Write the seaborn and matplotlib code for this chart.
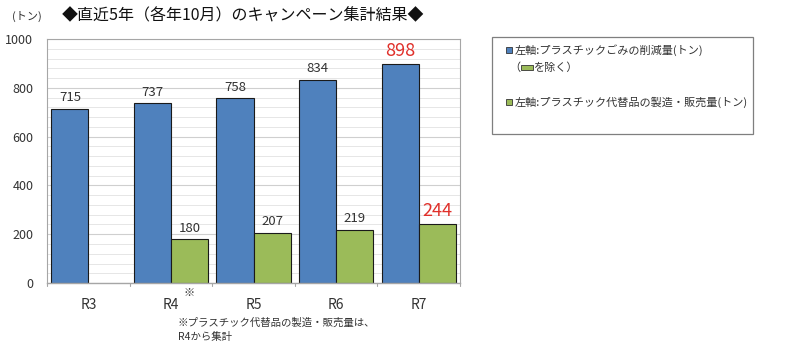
import numpy as np
import pandas as pd
import matplotlib
matplotlib.use("Agg")
import matplotlib.pyplot as plt
from matplotlib.patches import Rectangle
import seaborn as sns

years = ["R3", "R4", "R5", "R6", "R7"]
reduction = [715, 737, 758, 834, 898]
substitute = [np.nan, 180, 207, 219, 244]
series_names = ["左軸:プラスチックごみの削減量(トン)", "左軸:プラスチック代替品の製造・販売量(トン)"]
yticks = [0, 200, 400, 600, 800, 1000]

BLUE = "#4F81BD"
GREEN = "#9BBB59"
RED = "#E0302A"
TXT = "#333333"

sns.set_theme(style="white")
plt.rcParams['font.family'] = ['Noto Sans CJK JP', 'DejaVu Sans']

df = pd.DataFrame({
    "year": years * 2,
    "value": reduction + substitute,
    "series": [series_names[0]] * len(years) + [series_names[1]] * len(years),
})

fig = plt.figure(figsize=(8.0, 3.46), dpi=100)
ax = fig.add_axes([0.059, 0.182, 0.516, 0.705])

sns.barplot(data=df, x="year", y="value", hue="series", order=years,
            hue_order=series_names, palette=[BLUE, GREEN], width=0.9,
            edgecolor="#1a1a1a", linewidth=0.8, legend=False, ax=ax,
            saturation=1.0, errorbar=None)

ax.set_ylim(0, 1000)
ax.set_xlim(-0.5, len(years) - 0.5)
ax.set_yticks(yticks)
ax.set_yticklabels([str(v) for v in yticks], fontsize=9, color=TXT)
ax.set_yticks(np.arange(0, 1001, 40), minor=True)
ax.grid(axis="y", which="minor", color="#e6e6e6", linewidth=0.7)
ax.grid(axis="y", which="major", color="#cfcfcf", linewidth=0.8)
ax.set_axisbelow(True)
ax.set_xlabel("")
ax.set_ylabel("")
ax.set_xticks(range(len(years)))
ax.set_xticklabels(years, fontsize=10, color=TXT)
ax.tick_params(axis="x", which="major", length=0, pad=11)
ax.tick_params(axis="y", which="both", length=0, pad=10)
for s in ["top", "right", "left"]:
    ax.spines[s].set_color("#a6a6a6")
    ax.spines[s].set_linewidth(0.8)
ax.spines["bottom"].set_color("#a6a6a6")
ax.spines["bottom"].set_linewidth(1.0)

# category boundary tick marks
for b in np.arange(-0.5, len(years), 1.0):
    ax.plot([b, b], [0, -12], color="#a6a6a6", linewidth=0.8, clip_on=False)

# value labels
last = len(years) - 1
for cont in ax.containers:
    for patch in cont.patches:
        h = patch.get_height()
        if h is None or np.isnan(h) or h == 0:
            continue
        xc = patch.get_x() + patch.get_width() / 2
        if int(round(xc)) == last:
            ax.text(xc, h + 16, f"{int(h)}", ha="center", va="bottom",
                    fontsize=13, color=RED)
        else:
            ax.text(xc, h + 18, f"{int(h)}", ha="center", va="bottom",
                    fontsize=9.5, color=TXT)

# title & unit
fig.text(0.015, 0.953, "(トン)", fontsize=8, color=TXT, va="center", ha="left")
fig.text(0.077, 0.953, "◆直近5年（各年10月）のキャンペーン集計結果◆", fontsize=11.5,
         color="#111111", va="center", ha="left")

# note mark next to R4
fig.text(0.229, 0.152, "※", fontsize=8, color=TXT, va="center", ha="left")
fig.text(0.222, 0.067, "※プラスチック代替品の製造・販売量は、", fontsize=7.5, color=TXT,
         va="center", ha="left")
fig.text(0.222, 0.026, "R4から集計", fontsize=7.5, color=TXT, va="center", ha="left")

# legend box
fig.patches.append(Rectangle((492 / 800, 1 - 134 / 346), (753 - 492) / 800, (134 - 37) / 346,
                             transform=fig.transFigure, facecolor="white",
                             edgecolor="#7f7f7f", linewidth=0.9))
def sq(x, y, w, h, c):
    fig.patches.append(Rectangle((x / 800, 1 - (y + h) / 346), w / 800, h / 346,
                                 transform=fig.transFigure, facecolor=c,
                                 edgecolor="#333333", linewidth=0.6))
sq(506, 47, 6, 6, BLUE)
fig.text(515 / 800, 1 - 50 / 346, series_names[0], fontsize=8, color=TXT, va="center", ha="left")
fig.text(520 / 800, 1 - 68 / 346, "（", fontsize=8, color=TXT, va="center", ha="right")
sq(521, 65, 12, 5, GREEN)
fig.text(534 / 800, 1 - 68 / 346, "を除く）", fontsize=8, color=TXT, va="center", ha="left")
sq(506, 99, 6, 6, GREEN)
fig.text(515 / 800, 1 - 102 / 346, series_names[1], fontsize=8, color=TXT, va="center", ha="left")

fig.savefig("out.png", dpi=100)
